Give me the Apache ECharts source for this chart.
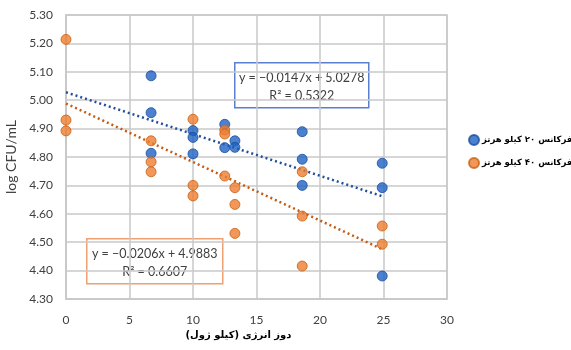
<!DOCTYPE html>
<html>
<head>
<meta charset="utf-8">
<script src="https://cdn.jsdelivr.net/npm/echarts@6/dist/echarts.min.js"></script>
<style>
html, body { margin: 0; padding: 0; background: #fff; }
#chart { width: 571px; height: 350px; }
</style>
</head>
<body>
<div id="chart"></div>
<script>
// داده ها
var khz20 = [
  [6.7, 5.086], [6.7, 4.956], [6.7, 4.813],
  [10, 4.893], [10, 4.869], [10, 4.811],
  [12.5, 4.915], [12.5, 4.833],
  [13.3, 4.857], [13.3, 4.834],
  [18.6, 4.889], [18.6, 4.792], [18.6, 4.700],
  [24.9, 4.778], [24.9, 4.692], [24.9, 4.381]
];
var khz40 = [
  [0, 5.214], [0, 4.930], [0, 4.892],
  [6.7, 4.857], [6.7, 4.783], [6.7, 4.748],
  [10, 4.933], [10, 4.700], [10, 4.663],
  [12.5, 4.895], [12.5, 4.881], [12.5, 4.733],
  [13.3, 4.692], [13.3, 4.633], [13.3, 4.531],
  [18.6, 4.748], [18.6, 4.592], [18.6, 4.416],
  [24.9, 4.557], [24.9, 4.493]
];
// trend line ends
var trend20 = [[0, 5.0278], [24.9, 4.6618]];
var trend40 = [[0, 4.9883], [24.9, 4.4754]];

var names = ['فرکانس ۲۰ کیلو هرتز', 'فرکانس ۴۰ کیلو هرتز'];
var eq20 = ['y = −0.0147x + 5.0278', 'R² = 0.5322'];
var eq40 = ['y = −0.0206x + 4.9883', 'R² = 0.6607'];
var xTitle = '\u202Bدوز انرژی (کیلو ژول)\u202C';
var yTitle = 'log CFU/mL';

var dom = document.getElementById('chart');
var chart = echarts.init(dom);

function eqBox(x, y, w, h, border, lines) {
  return {
    type: 'group', left: x, top: y,
    children: [
      { type: 'rect', shape: { x: 0, y: 0, width: w, height: h },
        style: { fill: '#fff', stroke: border, lineWidth: 1.5 } },
      { type: 'text', style: { x: w / 2, y: 15, text: lines[0], align: 'center', verticalAlign: 'middle',
          font: '12.5px Lato', fill: '#404040' } },
      { type: 'text', style: { x: w / 2, y: 33, text: lines[1], align: 'center', verticalAlign: 'middle',
          font: '12.5px Lato', fill: '#404040' } }
    ]
  };
}

var option = {
  animation: false,
  grid: { left: 66, right: 124, top: 15, bottom: 51, outerBoundsMode: 'none' },
  legend: {
    orient: 'vertical',
    left: 463, top: 129,
    itemGap: 11,
    itemWidth: 10, itemHeight: 10,
    data: [
      { name: names[0], icon: 'circle' },
      { name: names[1], icon: 'circle' }
    ],
    textStyle: { fontFamily: 'DejaVu Sans', fontWeight: 'bold', fontSize: 8.5, color: '#000', padding: [0, 0, 0, -2] }
  },
  xAxis: {
    type: 'value', min: 0, max: 30, interval: 5,
    name: xTitle, nameLocation: 'middle', nameGap: 27,
    nameTextStyle: { fontFamily: 'DejaVu Sans', fontWeight: 'bold', fontSize: 10, color: '#000', padding: [0, 36, 0, 0] },
    axisLine: { show: true, lineStyle: { color: '#c8c8c8', width: 1.5 } },
    axisTick: { show: false },
    splitLine: { show: true, lineStyle: { color: '#c8c8c8', width: 1.5 } },
    axisLabel: { fontFamily: 'Lato', fontSize: 12, color: '#404040', margin: 15 }
  },
  yAxis: {
    type: 'value', min: 4.3, max: 5.3, interval: 0.1,
    name: yTitle, nameLocation: 'middle', nameGap: 38,
    nameTextStyle: { fontFamily: 'Lato', fontSize: 14, color: '#404040' },
    axisLine: { show: true, lineStyle: { color: '#c8c8c8', width: 1.5 } },
    axisTick: { show: false },
    splitLine: { show: true, lineStyle: { color: '#c8c8c8', width: 1.5 } },
    axisLabel: { fontFamily: 'Lato', fontSize: 12, color: '#404040', margin: 13,
      formatter: function (v) { return v.toFixed(2); } }
  },
  graphic: [
    // right + top border of plot area
    { type: 'rect', shape: { x: 66, y: 15, width: 381, height: 284 },
      style: { fill: 'none', stroke: '#c8c8c8', lineWidth: 1.5 }, silent: true, z: 0 },
    eqBox(234, 62, 134, 45, '#5b7fd0', eq20),
    eqBox(86, 238, 136, 45, '#f0a070', eq40)
  ],
  series: [
    {
      name: 'trend20', type: 'line', data: trend20, symbol: 'none', silent: true,
      lineStyle: { color: '#1f4e9f', width: 2.5, type: [2, 3] }, z: 3
    },
    {
      name: 'trend40', type: 'line', data: trend40, symbol: 'none', silent: true,
      lineStyle: { color: '#c55a11', width: 2.5, type: [2, 3] }, z: 3
    },
    {
      name: names[0], type: 'scatter', data: khz20, symbolSize: 10,
      itemStyle: { color: '#1e62c2', borderColor: '#1a4f9e', borderWidth: 1 }, z: 4
    },
    {
      name: names[1], type: 'scatter', data: khz40, symbolSize: 10,
      itemStyle: { color: '#ed7d31', borderColor: '#c9600f', borderWidth: 1 }, z: 4
    }
  ]
};
chart.setOption(option);
</script>
</body>
</html>
